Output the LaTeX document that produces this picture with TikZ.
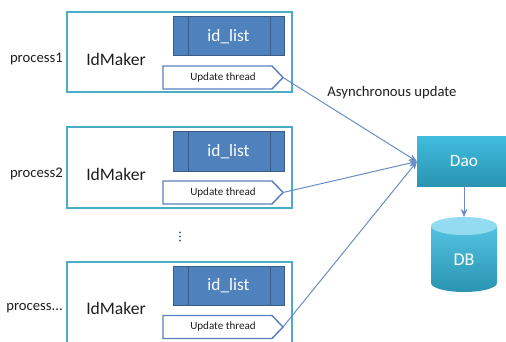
\documentclass[tikz,border=0pt]{standalone}
\usepackage{fontspec}
\setmainfont{Carlito}
\usetikzlibrary{calc,arrows.meta}
\newdimen\pxu \pxu=0.75pt
\definecolor{boxline}{HTML}{4BACC6}
\definecolor{idblue}{HTML}{4F81BD}
\definecolor{iddark}{HTML}{385D8A}
\definecolor{utline}{HTML}{5A80BF}
\definecolor{connblue}{HTML}{6A8DC8}
\definecolor{daotop}{HTML}{40BBDE}
\definecolor{daobot}{HTML}{2A94B2}
\definecolor{dbcap}{HTML}{92DBF0}
\definecolor{txt}{HTML}{1F1F1F}
\tikzset{
  procbox/.style={draw=boxline, line width=1.5pt, minimum width=225\pxu, minimum height=80\pxu, inner sep=0pt, outer sep=0pt},
  idbox/.style={draw=iddark, fill=idblue, line width=0.75pt, minimum width=111\pxu, minimum height=39\pxu, inner sep=0pt, outer sep=0pt, text=white, font=\fontsize{13}{15}\selectfont},
  utbox/.style={minimum width=120\pxu, minimum height=23\pxu, inner sep=0pt, outer sep=0pt, text=txt, font=\fontsize{8.3}{10}\selectfont},
  utshape/.style={draw=utline, line width=1.1pt, fill=white},
  plabel/.style={anchor=east, inner sep=0pt, text=txt, font=\fontsize{11}{13}\selectfont},
  idmaker/.style={inner sep=0pt, text=txt, font=\fontsize{13.2}{15}\selectfont},
  conn/.style={draw=connblue, line width=0.75pt, -{Stealth[length=6pt,width=5pt]}},
  daobox/.style={top color=daotop, bottom color=daobot, minimum width=94\pxu, minimum height=49\pxu, inner sep=0pt, outer sep=0pt, text=white, font=\fontsize{13}{15}\selectfont},
  dbbox/.style={minimum width=66\pxu, minimum height=75\pxu, inner sep=0pt, outer sep=0pt, text=white, font=\fontsize{13.5}{15}\selectfont},
  dotmark/.style={fill=iddark!70!gray}
}
\newcommand{\procunit}[4]{% #1 suffix, #2 top y, #3 label, #4 box height
  \node[procbox, minimum height=#4\pxu, anchor=north] (box#1) at (179.5,#2) {};
  \node[plabel] (lab#1) at (63,#2+46) {#3};
  \node[idmaker] (idm#1) at (116,#2+46.5) {IdMaker};
  \node[idbox] (id#1) at (228.5,#2+24) {id\_list};
  \draw[iddark, line width=0.75pt] ($(id#1.north west)+(15,0)$) -- ($(id#1.south west)+(15,0)$);
  \draw[iddark, line width=0.75pt] ($(id#1.north east)+(-14,0)$) -- ($(id#1.south east)+(-14,0)$);
  \node[utbox] (ut#1) at (223,#2+65) {};
  \draw[utshape] (ut#1.north west) -- ($(ut#1.north east)+(-11,0)$) -- (ut#1.east) -- ($(ut#1.south east)+(-11,0)$) -- (ut#1.south west) -- cycle;
  \node[utbox] (utt#1) at (ut#1.center) {Update thread};
}
\begin{document}
\begin{tikzpicture}[x=0.75pt,y=-0.75pt]
\useasboundingbox (0,0) rectangle (506,342);
\clip (0,0) rectangle (506,342);
\fill[white] (0,0) rectangle (506,342);
\procunit{1}{12.5}{process1}{80}
\procunit{2}{127.5}{process2}{80}
\procunit{3}{262}{process...}{86}
% vertical dots
\fill[dotmark] (180,232.5) circle (0.9pt);
\fill[dotmark] (180,236.5) circle (0.9pt);
\fill[dotmark] (180,240.5) circle (0.9pt);
% Dao
\node[daobox] (dao) at (464,161.5) {Dao};
% DB
\node[dbbox] (db) at (464,254.5) {};
\shade[top color=daotop!90!white, bottom color=daobot] (431,226) -- (431,283) arc[start angle=180, end angle=360, x radius=24.75pt, y radius=6.75pt] -- (497,226) -- cycle;
\fill[dbcap] (464,226) ellipse [x radius=24.75pt, y radius=6.75pt];
\node[text=white, font=\fontsize{13.5}{15}\selectfont, inner sep=0pt] (dbt) at (464,260) {DB};
% connectors
\draw[conn] (ut1.east) -- (dao.west);
\draw[conn] (ut2.east) -- (dao.west);
\draw[conn] (ut3.east) -- (dao.west);
\draw[conn] (dao.south) -- (db.north);
\node[text=txt, inner sep=0pt, font=\fontsize{11}{13}\selectfont] (async) at (392,93) {Asynchronous update};
\end{tikzpicture}
\end{document}
